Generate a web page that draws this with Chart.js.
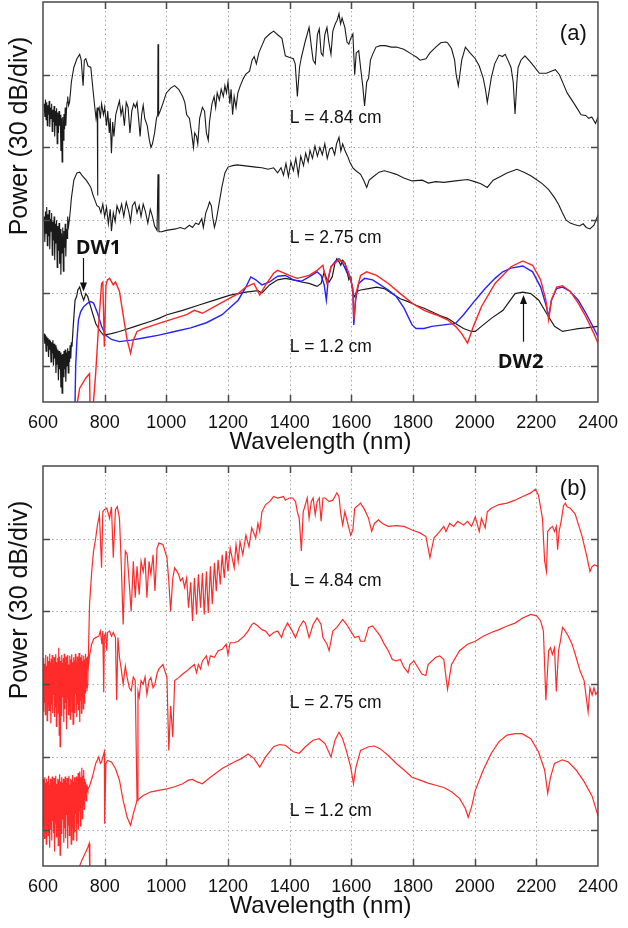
<!DOCTYPE html>
<html><head><meta charset="utf-8">
<script src="https://cdn.jsdelivr.net/npm/chart.js@4.4.1/dist/chart.umd.min.js"></script>
<style>
html,body{margin:0;padding:0;background:#fff;overflow:hidden;}
#wrap{position:relative;width:628px;height:928px;}
.pane{position:absolute;left:0;width:628px;height:464px;}
#pa{top:0}#pb{top:464px}
</style></head><body>
<div id="wrap"><div class="pane" id="pa"><canvas id="ca"></canvas></div><div class="pane" id="pb"><canvas id="cb"></canvas></div></div>
<script>
// ---------- axis definitions ----------
const xTickLabels = ['600','800','1000','1200','1400','1600','1800','2000','2200','2400'];
const xGrid = [800,1000,1200,1400,1600,1800,2000,2200];
const yGrid = [0,1,2,3,4];

// ---------- panel (a): measured (black) and simulated (blue / red) ----------
// [wavelength nm, power in divisions of 30 dB]
const a484 = [[604,3.60],[606,3.42],[608,3.66],[610,3.38],[612,3.62],[614,3.30],[616,3.58],[618,3.45],[620,3.64],[622,3.28],[624,3.55],[626,3.40],[628,3.60],[630,3.22],[632,3.52],[634,3.35],[636,3.57],[638,3.15],[640,3.50],[642,3.30],[644,3.54],[646,3.05],[648,3.48],[650,3.20],[652,3.50],[654,3.30],[656,3.45],[658,2.95],[660,3.40],[662,2.80],[664,3.42],[666,3.10],[668,3.46],[670,3.25],[672,3.55],[674,3.30],[676,3.50],[678,3.62],[680,3.70],[683,3.58],[686,3.62],[689,3.75],[692,3.90],[700,4.10],[710,4.22],[719,4.28],[724,4.20],[730,3.85],[734,4.20],[739,4.22],[746,4.12],[755,4.10],[762,3.80],[768,3.55],[772,3.40],[776,3.55],[777,2.34],[778,3.50],[782,3.55],[786,3.40],[790,3.60],[796,3.45],[800,3.55],[806,3.30],[810,3.50],[815,3.20],[818,3.40],[822,2.92],[826,3.35],[830,3.15],[836,3.45],[842,3.55],[848,3.64],[853,3.45],[858,3.55],[864,3.30],[870,3.62],[876,3.55],[882,3.20],[888,3.50],[894,3.60],[900,3.55],[905,3.62],[910,3.40],[915,3.15],[920,3.45],[925,3.58],[930,3.40],[938,3.30],[945,3.10],[950,3.00],[955,3.05],[962,3.20],[968,3.40],[972,3.45],[973,4.42],[975,3.45],[980,3.50],[990,3.62],[1000,3.75],[1015,3.82],[1027,3.85],[1040,3.80],[1053,3.70],[1060,3.62],[1066,3.45],[1075,3.40],[1082,3.20],[1088,3.00],[1092,3.20],[1098,3.15],[1102,3.05],[1108,3.40],[1117,3.55],[1124,3.50],[1130,3.20],[1136,3.10],[1140,3.35],[1148,3.60],[1155,3.70],[1160,3.55],[1165,3.75],[1172,3.65],[1178,3.80],[1185,3.70],[1190,3.85],[1195,3.75],[1200,3.90],[1206,3.60],[1210,3.80],[1215,3.45],[1220,3.70],[1226,3.55],[1232,3.75],[1240,3.85],[1250,3.95],[1258,4.01],[1270,4.05],[1278,4.20],[1285,4.25],[1292,4.15],[1300,4.30],[1310,4.40],[1320,4.50],[1335,4.56],[1348,4.60],[1361,4.55],[1375,4.50],[1386,4.26],[1398,4.24],[1412,4.22],[1418,4.15],[1425,3.70],[1432,4.10],[1438,4.24],[1450,4.45],[1463,4.65],[1470,4.40],[1476,4.20],[1483,4.15],[1490,4.55],[1496,4.63],[1502,4.30],[1508,4.26],[1514,4.55],[1521,4.65],[1527,4.45],[1534,4.28],[1540,4.60],[1548,4.70],[1554,4.75],[1560,4.84],[1565,4.70],[1570,4.78],[1579,4.65],[1586,4.45],[1592,4.42],[1598,4.50],[1605,4.56],[1611,4.00],[1616,4.30],[1624,4.33],[1630,4.10],[1637,3.85],[1643,3.57],[1650,3.90],[1656,3.95],[1662,4.20],[1669,4.28],[1680,4.38],[1694,4.40],[1710,4.40],[1730,4.38],[1746,4.38],[1770,4.35],[1797,4.28],[1812,4.24],[1823,4.20],[1832,4.21],[1842,4.22],[1855,4.30],[1874,4.38],[1890,4.44],[1905,4.45],[1912,4.44],[1925,4.36],[1935,4.20],[1940,4.00],[1947,3.85],[1952,4.00],[1958,4.20],[1970,4.38],[1985,4.30],[2002,4.22],[2015,4.12],[2028,3.95],[2035,3.80],[2041,3.62],[2048,3.80],[2054,3.96],[2065,4.15],[2079,4.27],[2090,4.25],[2099,4.28],[2110,4.18],[2118,4.10],[2125,3.90],[2131,3.46],[2137,3.90],[2141,4.10],[2150,4.20],[2163,4.26],[2180,4.18],[2195,4.10],[2210,4.02],[2233,4.02],[2250,4.05],[2262,4.07],[2275,4.00],[2290,3.85],[2300,3.75],[2320,3.62],[2335,3.52],[2345,3.45],[2360,3.44],[2370,3.40],[2380,3.42],[2392,3.33],[2400,3.42]];

const a275 = [[604,2.05],[606,1.70],[608,2.12],[610,1.82],[612,2.18],[614,1.65],[616,2.08],[618,1.78],[620,2.14],[622,1.60],[624,2.02],[626,1.85],[628,2.10],[630,1.52],[632,1.98],[634,1.72],[636,2.05],[638,1.45],[640,1.95],[642,1.68],[644,2.00],[646,1.35],[648,1.92],[650,1.58],[652,1.96],[654,1.40],[656,1.88],[658,1.25],[660,1.82],[662,1.55],[664,1.90],[666,1.30],[668,1.85],[670,1.62],[672,1.95],[674,1.50],[676,1.88],[678,1.75],[680,2.05],[683,1.92],[686,2.02],[689,2.15],[692,2.30],[700,2.55],[710,2.65],[719,2.66],[726,2.62],[732,2.59],[740,2.55],[748,2.50],[755,2.45],[762,2.35],[768,2.28],[775,2.20],[782,2.18],[788,2.10],[794,2.22],[800,2.05],[806,2.18],[812,1.95],[818,2.15],[822,1.85],[828,2.10],[834,1.98],[840,2.20],[848,2.10],[855,2.22],[862,2.05],[870,2.25],[878,2.12],[884,1.98],[890,2.20],[898,2.25],[905,2.10],[912,2.20],[918,2.05],[925,2.22],[932,2.12],[940,1.96],[948,2.15],[955,2.05],[962,1.92],[970,1.86],[973,2.63],[976,1.84],[985,1.84],[1000,1.86],[1015,1.87],[1030,1.88],[1045,1.90],[1060,1.88],[1075,1.93],[1085,1.90],[1095,1.96],[1105,1.94],[1115,2.02],[1120,1.90],[1128,2.10],[1135,2.18],[1140,2.25],[1146,2.20],[1150,2.05],[1156,1.90],[1162,2.00],[1170,2.20],[1180,2.45],[1190,2.65],[1200,2.73],[1215,2.75],[1230,2.76],[1250,2.75],[1270,2.74],[1290,2.73],[1310,2.72],[1330,2.70],[1348,2.72],[1361,2.65],[1372,2.72],[1380,2.62],[1388,2.78],[1396,2.60],[1404,2.80],[1412,2.68],[1420,2.85],[1428,2.62],[1436,2.88],[1445,2.75],[1452,2.92],[1460,2.80],[1466,2.96],[1474,2.85],[1482,3.02],[1490,2.88],[1498,3.00],[1506,2.90],[1514,3.05],[1522,2.85],[1530,2.98],[1538,3.00],[1546,2.90],[1552,3.05],[1560,3.14],[1566,2.95],[1572,3.05],[1580,2.95],[1588,2.88],[1595,2.80],[1605,2.72],[1615,2.68],[1630,2.63],[1640,2.55],[1650,2.45],[1658,2.55],[1669,2.59],[1690,2.66],[1707,2.68],[1725,2.66],[1746,2.63],[1770,2.58],[1797,2.54],[1830,2.55],[1850,2.51],[1874,2.53],[1900,2.52],[1938,2.54],[1977,2.56],[2000,2.53],[2020,2.50],[2041,2.45],[2060,2.55],[2079,2.59],[2105,2.65],[2137,2.70],[2160,2.66],[2182,2.61],[2200,2.56],[2220,2.50],[2240,2.42],[2259,2.31],[2272,2.22],[2285,2.10],[2297,2.00],[2310,1.96],[2323,1.94],[2340,1.92],[2352,1.95],[2362,1.90],[2374,1.88],[2387,1.93],[2400,2.07]];

const a12exp = [[604,0.44],[606,0.30],[608,0.42],[610,0.20],[612,0.40],[614,0.28],[616,0.38],[618,0.12],[620,0.36],[622,0.22],[624,0.34],[626,0.05],[628,0.32],[630,0.18],[632,0.35],[634,0.00],[636,0.30],[638,0.10],[640,0.28],[642,-0.10],[644,0.25],[646,0.02],[648,0.22],[650,-0.20],[652,0.20],[654,-0.05],[656,0.18],[658,-0.30],[660,0.15],[662,-0.38],[664,0.16],[666,-0.15],[668,0.20],[670,-0.05],[672,0.22],[674,-0.22],[676,0.18],[678,0.00],[680,0.24],[682,-0.10],[684,0.20],[686,0.05],[688,0.28],[690,0.10],[692,0.32],[694,0.26],[698,0.54],[704,0.90],[709,0.95],[713,1.04],[719,1.08],[726,0.97],[732,0.90],[739,0.99],[745,0.95],[758,0.76],[771,0.58],[783,0.49],[796,0.42],[822,0.44],[848,0.47],[899,0.54],[950,0.61],[976,0.65],[1002,0.70],[1053,0.76],[1104,0.83],[1156,0.90],[1207,0.97],[1258,1.01],[1297,1.03],[1310,1.00],[1335,1.11],[1361,1.18],[1386,1.20],[1412,1.18],[1438,1.15],[1463,1.13],[1489,1.09],[1502,1.13],[1512,1.29],[1521,1.18],[1528,1.15],[1538,1.22],[1547,1.41],[1553,1.47],[1560,1.43],[1566,1.38],[1572,1.45],[1579,1.41],[1585,1.31],[1592,1.18],[1598,1.22],[1605,0.99],[1611,0.95],[1617,1.02],[1630,1.04],[1656,1.06],[1682,1.08],[1707,1.06],[1733,0.99],[1759,0.92],[1784,0.88],[1810,0.83],[1836,0.79],[1861,0.74],[1887,0.69],[1912,0.65],[1938,0.58],[1964,0.51],[1990,0.47],[2002,0.47],[2022,0.54],[2054,0.65],[2092,0.76],[2131,0.99],[2156,1.01],[2182,0.99],[2208,0.90],[2233,0.72],[2259,0.54],[2285,0.47],[2310,0.49],[2336,0.51],[2361,0.52],[2400,0.54]];

const a12blue = [[703,-0.70],[706,-0.01],[710,0.35],[715,0.63],[722,0.74],[732,0.81],[745,0.86],[755,0.88],[764,0.86],[777,0.72],[790,0.54],[803,0.42],[822,0.36],[848,0.33],[886,0.35],[925,0.38],[976,0.42],[1027,0.47],[1079,0.52],[1130,0.59],[1181,0.70],[1233,0.90],[1258,1.08],[1274,1.22],[1290,1.18],[1310,1.11],[1335,1.15],[1361,1.23],[1386,1.24],[1412,1.18],[1438,1.16],[1463,1.22],[1489,1.29],[1502,1.24],[1512,1.11],[1519,0.90],[1525,1.18],[1534,1.36],[1547,1.43],[1560,1.47],[1572,1.41],[1585,1.29],[1598,1.20],[1605,1.04],[1608,0.56],[1614,0.90],[1624,1.13],[1643,1.20],[1669,1.18],[1694,1.11],[1720,1.04],[1746,0.95],[1771,0.79],[1797,0.56],[1810,0.51],[1836,0.51],[1861,0.54],[1900,0.56],[1938,0.58],[1964,0.70],[2002,0.90],[2034,1.06],[2066,1.20],[2091,1.29],[2118,1.34],[2156,1.37],[2188,1.29],[2214,1.08],[2233,0.81],[2240,0.67],[2249,0.90],[2266,1.06],[2285,1.08],[2310,1.02],[2336,0.90],[2361,0.72],[2387,0.51],[2400,0.40]];

const a12red = [[704,-0.70],[719,-0.31],[739,-0.17],[751,-0.11],[753,-0.70],[760,-0.70],[771,-0.10],[781,0.60],[790,1.13],[794,1.15],[799,0.26],[804,1.10],[809,1.18],[816,1.20],[828,1.11],[835,1.15],[848,1.02],[861,0.67],[873,0.35],[884,0.17],[893,0.35],[905,0.47],[925,0.51],[976,0.58],[1027,0.65],[1066,0.70],[1091,0.76],[1117,0.72],[1156,0.81],[1194,0.90],[1233,0.99],[1258,1.08],[1284,1.13],[1303,0.97],[1322,1.11],[1348,1.27],[1361,1.31],[1399,1.24],[1425,1.20],[1463,1.24],[1489,1.31],[1508,1.38],[1515,1.22],[1521,1.13],[1534,1.36],[1560,1.46],[1579,1.41],[1592,1.27],[1605,1.06],[1608,0.63],[1615,0.99],[1630,1.24],[1650,1.29],[1682,1.24],[1720,1.13],[1759,0.99],[1797,0.86],[1836,0.76],[1874,0.70],[1912,0.63],[1938,0.54],[1958,0.44],[1977,0.31],[1996,0.54],[2022,0.81],[2066,1.13],[2118,1.36],[2156,1.44],[2188,1.38],[2214,1.18],[2231,0.90],[2240,0.63],[2249,0.90],[2266,1.08],[2285,1.10],[2310,1.02],[2336,0.86],[2361,0.67],[2387,0.44],[2400,0.31]];

// ---------- panel (b): simulated spectra (red) ----------
const b484 = [[742,1.90],[745,2.00],[751,3.10],[758,3.55],[764,3.83],[771,4.01],[777,4.20],[781,4.28],[783,4.33],[790,3.60],[794,4.37],[799,4.40],[807,4.42],[816,4.28],[822,4.44],[828,3.74],[835,4.40],[841,4.44],[848,4.28],[854,3.64],[860,2.82],[867,3.83],[873,3.78],[880,3.37],[886,3.00],[893,3.69],[899,3.19],[905,3.62],[912,3.23],[918,3.69],[925,3.55],[931,3.74],[937,3.19],[944,3.69],[950,3.51],[957,3.78],[963,3.28],[970,3.87],[976,3.94],[989,3.92],[1002,3.74],[1008,3.42],[1014,3.00],[1021,3.46],[1027,3.60],[1040,3.51],[1046,3.42],[1053,3.46],[1059,3.33],[1066,3.46],[1072,3.05],[1079,3.40],[1085,2.87],[1091,3.46],[1098,2.96],[1104,3.51],[1111,3.05],[1117,3.53],[1123,2.96],[1130,3.55],[1136,2.98],[1143,3.62],[1149,3.10],[1156,3.67],[1162,3.28],[1168,3.71],[1175,3.37],[1181,3.78],[1188,3.46],[1194,3.83],[1200,3.55],[1207,3.87],[1220,3.60],[1226,3.92],[1233,3.69],[1239,3.96],[1248,3.78],[1258,4.05],[1268,3.89],[1277,4.15],[1290,4.01],[1297,4.21],[1303,4.10],[1310,4.37],[1322,4.47],[1335,4.51],[1348,4.58],[1361,4.56],[1380,4.58],[1386,4.53],[1399,4.56],[1410,4.56],[1419,4.51],[1425,4.37],[1431,4.28],[1438,3.83],[1444,4.37],[1451,4.47],[1457,4.56],[1463,4.28],[1470,4.51],[1476,4.56],[1483,4.33],[1489,4.51],[1496,4.56],[1502,4.24],[1508,4.56],[1515,4.56],[1528,4.51],[1540,4.53],[1553,4.63],[1560,4.58],[1566,4.33],[1572,4.19],[1579,4.37],[1592,4.15],[1598,4.05],[1605,4.12],[1611,4.42],[1630,4.49],[1643,4.40],[1656,4.28],[1666,4.10],[1675,4.21],[1688,4.26],[1701,4.21],[1720,4.17],[1746,4.18],[1771,4.17],[1797,4.12],[1823,4.08],[1842,4.03],[1855,3.74],[1868,4.01],[1887,4.10],[1900,4.17],[1907,4.10],[1919,4.21],[1932,4.17],[1945,4.24],[1964,4.19],[1977,4.24],[1990,4.17],[2002,4.30],[2015,4.10],[2022,4.28],[2034,4.15],[2041,4.37],[2054,4.42],[2079,4.47],[2105,4.49],[2131,4.53],[2156,4.58],[2182,4.63],[2197,4.68],[2207,4.60],[2220,4.28],[2227,3.69],[2233,3.55],[2237,4.10],[2246,4.15],[2252,4.17],[2259,4.10],[2265,4.17],[2269,3.85],[2274,4.10],[2281,4.25],[2288,4.45],[2294,4.49],[2300,4.44],[2310,4.42],[2326,4.34],[2340,4.15],[2348,4.04],[2363,3.77],[2374,3.55],[2381,3.62],[2389,3.64],[2400,3.62]];

const b275 = [[600,2.30],[601.5,1.62],[603,2.36],[604.5,1.75],[606,2.28],[607.5,1.58],[609,2.40],[610.5,1.85],[612,2.25],[613.5,1.50],[615,2.38],[616.5,1.70],[618,2.32],[619.5,1.64],[621,2.42],[622.5,1.80],[624,2.30],[625.5,1.46],[627,2.35],[628.5,1.72],[630,2.40],[631.5,1.60],[633,2.28],[634.5,1.85],[636,2.37],[637.5,1.55],[639,2.33],[640.5,1.68],[642,2.41],[643.5,1.42],[645,2.30],[646.5,1.78],[648,2.36],[649.5,1.60],[651,2.50],[652.5,1.30],[654,2.38],[655.5,1.14],[657,2.32],[658.5,1.70],[660,2.40],[661.5,1.56],[663,2.29],[664.5,1.82],[666,2.36],[667.5,1.48],[669,2.42],[670.5,1.66],[672,2.30],[673.5,1.74],[675,2.38],[676.5,1.38],[678,2.33],[679.5,1.80],[681,2.40],[682.5,1.58],[684,2.27],[685.5,1.70],[687,2.39],[688.5,1.52],[690,2.34],[691.5,1.84],[693,2.41],[694.5,1.62],[696,2.30],[697.5,1.45],[699,2.37],[700.5,1.76],[702,2.33],[703.5,1.60],[705,2.42],[706.5,1.86],[708,2.30],[709.5,1.55],[711,2.38],[712.5,1.72],[714,2.35],[715.5,1.64],[717,2.43],[718.5,1.48],[720,2.31],[721.5,1.78],[723,2.37],[724.5,1.60],[726,2.40],[727.5,1.82],[729,2.32],[730.5,1.66],[732,2.39],[733.5,1.74],[735,2.34],[736.5,1.88],[738,2.42],[739.5,1.95],[741,2.36],[742.5,2.05],[744,2.38],[745.5,2.20],[751,2.40],[758,2.55],[764,2.62],[771,2.64],[781,2.66],[786,2.73],[791,2.55],[794,2.73],[797,1.89],[799,2.66],[803,2.70],[807,2.46],[809,2.71],[816,2.73],[822,2.66],[828,2.71],[835,2.64],[839,1.78],[843,2.64],[848,2.37],[854,2.20],[860,2.00],[867,2.25],[873,2.09],[880,1.95],[886,1.91],[893,2.10],[899,2.05],[905,0.40],[908,1.90],[912,1.82],[918,2.05],[925,2.00],[931,2.10],[937,1.86],[944,2.05],[950,2.09],[957,1.95],[963,2.00],[970,2.15],[976,2.21],[989,2.27],[1002,2.09],[1008,1.09],[1014,1.70],[1021,1.27],[1027,2.05],[1040,2.09],[1053,2.14],[1066,2.18],[1079,2.23],[1091,2.27],[1098,2.16],[1104,2.27],[1111,2.21],[1117,2.32],[1130,2.39],[1136,2.27],[1143,2.39],[1156,2.37],[1168,2.46],[1181,2.48],[1194,2.55],[1200,2.41],[1207,2.57],[1220,2.57],[1233,2.59],[1252,2.66],[1265,2.73],[1277,2.82],[1284,2.84],[1297,2.80],[1310,2.75],[1322,2.73],[1335,2.66],[1348,2.71],[1361,2.73],[1374,2.64],[1380,2.73],[1393,2.84],[1406,2.75],[1419,2.64],[1431,2.78],[1444,2.87],[1451,2.84],[1463,2.64],[1476,2.82],[1489,2.91],[1502,2.82],[1508,2.64],[1521,2.55],[1528,2.46],[1540,2.73],[1553,2.78],[1572,2.89],[1585,2.82],[1598,2.73],[1611,2.64],[1624,2.66],[1630,2.59],[1643,2.59],[1656,2.78],[1669,2.80],[1682,2.73],[1694,2.66],[1707,2.55],[1720,2.46],[1733,2.34],[1746,2.32],[1759,2.34],[1771,2.23],[1784,2.16],[1790,2.27],[1803,2.32],[1816,2.23],[1829,2.14],[1842,2.12],[1849,2.27],[1874,2.37],[1887,2.39],[1900,2.34],[1912,1.93],[1925,2.27],[1951,2.46],[1977,2.55],[2002,2.59],[2028,2.66],[2054,2.71],[2079,2.75],[2105,2.80],[2131,2.84],[2156,2.91],[2182,2.96],[2201,2.94],[2214,2.87],[2223,2.73],[2231,1.78],[2240,2.46],[2246,2.50],[2252,2.41],[2259,2.50],[2265,1.90],[2272,2.46],[2278,2.59],[2285,2.78],[2291,2.75],[2304,2.66],[2316,2.55],[2329,2.37],[2342,2.18],[2355,2.05],[2368,1.62],[2374,1.95],[2381,1.85],[2387,1.95],[2393,1.86],[2400,1.90]];

const b12 = [[600,0.70],[601.5,0.02],[603,0.68],[604.5,-0.12],[606,0.72],[607.5,0.10],[609,0.64],[610.5,-0.20],[612,0.70],[613.5,0.05],[615,0.66],[616.5,-0.08],[618,0.74],[619.5,0.15],[621,0.62],[622.5,-0.25],[624,0.70],[625.5,0.00],[627,0.68],[628.5,-0.15],[630,0.73],[631.5,0.12],[633,0.65],[634.5,-0.05],[636,0.71],[637.5,-0.30],[639,0.67],[640.5,0.08],[642,0.74],[643.5,-0.10],[645,0.63],[646.5,0.18],[648,0.70],[649.5,-0.22],[651,0.69],[652.5,0.04],[654,0.76],[655.5,-0.35],[657,0.66],[658.5,0.10],[660,0.72],[661.5,-0.06],[663,0.64],[664.5,0.14],[666,0.70],[667.5,-0.18],[669,0.68],[670.5,0.02],[672,0.73],[673.5,-0.12],[675,0.65],[676.5,0.20],[678,0.71],[679.5,-0.26],[681,0.67],[682.5,0.06],[684,0.74],[685.5,-0.08],[687,0.62],[688.5,0.16],[690,0.70],[691.5,-0.20],[693,0.68],[694.5,0.03],[696,0.75],[697.5,-0.14],[699,0.66],[700.5,0.12],[702,0.72],[703.5,-0.04],[705,0.64],[706.5,0.22],[708,0.73],[709.5,-0.16],[711,0.69],[712.5,0.08],[714,0.78],[715.5,0.00],[717,0.68],[718.5,0.25],[720,0.80],[721.5,0.05],[723,0.72],[724.5,0.30],[726,0.85],[727.5,0.15],[729,0.74],[730.5,0.35],[732,0.82],[733.5,0.28],[735,0.70],[736.5,0.45],[738,0.66],[739.5,0.40],[741,0.62],[742.5,0.48],[744,0.58],[745.5,0.55],[751,0.60],[760,0.72],[771,0.91],[781,1.00],[786,0.91],[790,0.93],[794,1.00],[799,1.07],[800,0.08],[804,0.91],[809,0.95],[822,0.93],[835,0.84],[848,0.68],[860,0.40],[873,0.17],[884,0.06],[893,0.22],[905,0.40],[925,0.47],[950,0.52],[976,0.54],[1002,0.56],[1027,0.59],[1053,0.63],[1072,0.68],[1085,0.69],[1098,0.66],[1117,0.63],[1143,0.72],[1181,0.84],[1220,0.93],[1245,0.98],[1265,1.04],[1284,0.98],[1303,0.86],[1322,1.00],[1348,1.14],[1367,1.17],[1386,1.16],[1412,1.07],[1431,1.05],[1451,1.14],[1476,1.23],[1496,1.25],[1515,1.18],[1534,1.00],[1547,1.23],[1560,1.34],[1572,1.25],[1585,1.07],[1598,0.86],[1607,0.63],[1615,0.86],[1630,1.09],[1656,1.14],[1675,1.15],[1694,1.11],[1720,1.02],[1746,0.91],[1771,0.82],[1797,0.72],[1823,0.68],[1849,0.64],[1874,0.61],[1900,0.58],[1925,0.52],[1951,0.43],[1970,0.29],[1979,0.17],[1990,0.31],[2002,0.54],[2028,0.82],[2054,1.05],[2079,1.21],[2105,1.30],[2131,1.32],[2154,1.32],[2182,1.25],[2207,1.07],[2227,0.82],[2237,0.50],[2246,0.72],[2259,0.91],[2285,0.96],[2304,0.93],[2329,0.82],[2355,0.66],[2381,0.46],[2400,0.19]];

const b12tail = [[714,-0.70],[717,-0.52],[726,-0.42],[736,-0.33],[745,-0.25],[750,-0.19],[752,-0.70]];

// ---------- text annotations (data coordinates) ----------
const annA = {
  labels: [{t:'L = 4.84 cm', x:1400, y:3.40},{t:'L = 2.75 cm', x:1400, y:1.75},{t:'L = 1.2 cm', x:1400, y:0.26}],
  tag: {t:'(a)', x:2320, y:4.56},
  dw: [{t:'DW1', x:780, y:1.62},{t:'DW2', x:2149, y:0.04}],
  arrows: [{x:729, from:1.48, to:1.02},{x:2156, from:0.33, to:0.97}]
};
const annB = {
  labels: [{t:'L = 4.84 cm', x:1400, y:3.41},{t:'L = 2.75 cm', x:1400, y:1.74},{t:'L = 1.2 cm', x:1400, y:0.26}],
  tag: {t:'(b)', x:2320, y:4.68},
  dw: [], arrows: []
};

const FONT = '"Liberation Sans", Arial, Helvetica, sans-serif';
Chart.defaults.font.family = FONT;
Chart.defaults.color = '#111';

function pts(arr){ return arr.map(p => ({x:p[0], y:p[1]})); }
function ds(arr, color, w){ return {data: pts(arr), borderColor: color, borderWidth: w, pointRadius: 0, tension: 0, fill: false}; }

const framePlugin = {
  id: 'frame',
  beforeDatasetsDraw(chart){
    const {ctx, chartArea:a, scales:{x, y}} = chart;
    ctx.save();
    ctx.strokeStyle = '#a8a8a8'; ctx.lineWidth = 1; ctx.setLineDash([1.5, 3]);
    for (const v of xGrid){ const p = Math.round(x.getPixelForValue(v)) + 0.5; ctx.beginPath(); ctx.moveTo(p, a.top); ctx.lineTo(p, a.bottom); ctx.stroke(); }
    for (const v of yGrid){ const p = Math.round(y.getPixelForValue(v)) + 0.5; ctx.beginPath(); ctx.moveTo(a.left, p); ctx.lineTo(a.right, p); ctx.stroke(); }
    ctx.restore();
  },
  afterDatasetsDraw(chart){
    const {ctx, chartArea:a, scales:{x, y}} = chart;
    ctx.save();
    ctx.setLineDash([]); ctx.strokeStyle = '#4a4a4a'; ctx.lineWidth = 1.5;
    ctx.strokeRect(a.left, a.top, a.right - a.left, a.bottom - a.top);
    const T = 7;
    for (const v of xGrid){ const p = Math.round(x.getPixelForValue(v)) + 0.5;
      ctx.beginPath(); ctx.moveTo(p, a.bottom); ctx.lineTo(p, a.bottom - T); ctx.moveTo(p, a.top); ctx.lineTo(p, a.top + T); ctx.stroke(); }
    for (const v of yGrid){ const p = Math.round(y.getPixelForValue(v)) + 0.5;
      ctx.beginPath(); ctx.moveTo(a.left, p); ctx.lineTo(a.left + T, p); ctx.moveTo(a.right, p); ctx.lineTo(a.right - T, p); ctx.stroke(); }
    ctx.restore();
  },
  afterDraw(chart, args, o){
    const {ctx, scales:{x, y}} = chart;
    ctx.save();
    ctx.fillStyle = '#111';
    ctx.save(); ctx.translate(20, 136); ctx.rotate(-Math.PI/2);
    ctx.font = '25px ' + FONT; ctx.textAlign = 'center'; ctx.textBaseline = 'middle';
    ctx.fillText('Power (30 dB/div)', 0, 0); ctx.restore();
    ctx.font = '17.5px ' + FONT; ctx.textAlign = 'left'; ctx.textBaseline = 'middle';
    for (const l of o.labels){ ctx.fillText(l.t, x.getPixelForValue(l.x), y.getPixelForValue(l.y)); }
    ctx.font = '22px ' + FONT; ctx.textAlign = 'center';
    ctx.fillText(o.tag.t, x.getPixelForValue(o.tag.x), y.getPixelForValue(o.tag.y));
    ctx.font = 'bold 20px "Open Sans", ' + FONT;
    for (const d of o.dw){ ctx.fillText(d.t, x.getPixelForValue(d.x), y.getPixelForValue(d.y)); }
    ctx.strokeStyle = '#111'; ctx.lineWidth = 1.2;
    for (const ar of o.arrows){
      const px = Math.round(x.getPixelForValue(ar.x)) + 0.5;
      const y1 = y.getPixelForValue(ar.from), y2 = y.getPixelForValue(ar.to);
      const dir = y2 > y1 ? 1 : -1;
      ctx.beginPath(); ctx.moveTo(px, y1); ctx.lineTo(px, y2 - dir*6); ctx.stroke();
      ctx.beginPath(); ctx.moveTo(px, y2); ctx.lineTo(px - 3.5, y2 - dir*9); ctx.lineTo(px + 3.5, y2 - dir*9); ctx.closePath(); ctx.fill();
    }
    ctx.restore();
  }
};

function makeChart(id, datasets, ann){
  return new Chart(document.getElementById(id), {
    type: 'line',
    data: {datasets},
    options: {
      responsive: true, maintainAspectRatio: false, animation: false, devicePixelRatio: 1,
      layout: {padding: {left: 0, right: 25, top: 2, bottom: 0}},
      plugins: {legend: {display: false}, tooltip: {enabled: false}, frame: ann},
      scales: {
        x: {type: 'linear', min: 600, max: 2400,
            ticks: {stepSize: 200, autoSkip: false, maxRotation: 0, padding: 10, font: {size: 18}, color: '#111',
                    callback: (v, i) => xTickLabels[i]},
            grid: {display: false, drawTicks: false}, border: {display: false},
            title: {display: true, text: 'Wavelength (nm)', font: {size: 24}, color: '#111', padding: {top: 0, bottom: 7}},
            afterFit: s => { s.height = 62; }},
        y: {type: 'linear', min: -0.5, max: 5,
            ticks: {display: false}, grid: {display: false, drawTicks: false}, border: {display: false},
            afterFit: s => { s.width = 43; }}
      }
    },
    plugins: [framePlugin]
  });
}

makeChart('ca', [
  ds(a484, '#1a1a1a', 1.1),
  ds(a275, '#1a1a1a', 1.1),
  ds(a12red, '#ff2424', 1.4),
  ds(a12blue, '#2323ff', 1.4),
  ds(a12exp, '#1a1a1a', 1.2)
], annA);

makeChart('cb', [
  ds(b484, '#ff2a2a', 1.2),
  ds(b275, '#ff2a2a', 1.2),
  ds(b12, '#ff2a2a', 1.2),
  ds(b12tail, '#ff2a2a', 1.2)
], annB);
</script></body></html>
